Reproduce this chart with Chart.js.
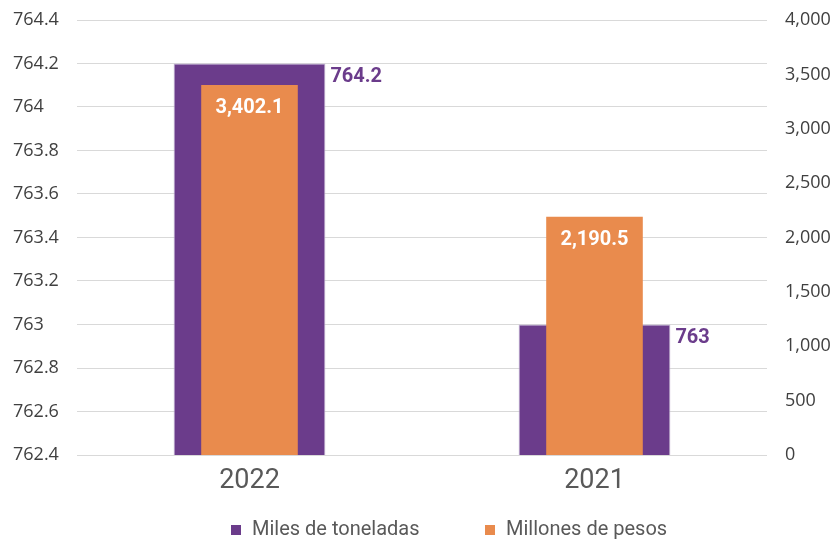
<!DOCTYPE html>
<html>
<head>
<meta charset="utf-8">
<script src="https://cdn.jsdelivr.net/npm/chart.js@4.4.1/dist/chart.umd.min.js"></script>
<style>
  html, body { margin: 0; padding: 0; background: #fff; }
  #wrap { width: 837px; height: 539px; }
</style>
</head>
<body>
<div id="wrap"><canvas id="chart"></canvas></div>
<script>
const years = ['2022', '2021'];
const tonnes = [764.2, 763];
const pesos = [3402.1, 2190.5];
const seriesNames = ['Miles de toneladas', 'Millones de pesos'];

const PURPLE = '#6B3C8B';
const ORANGE = '#E98B4D';
const TICK_FONT = { family: '"Open Sans", sans-serif', size: 18 };

function fmtTonnes(v) {
  return String(v);
}

function fmtPesos(v) {
  return v.toLocaleString('en-US', { minimumFractionDigits: 1, maximumFractionDigits: 1 });
}

// value labels: purple to the right of the bar top, orange inside the top in white
const valueLabels = {
  id: 'valueLabels',
  afterDatasetsDraw(chart) {
    const ctx = chart.ctx;
    ctx.save();
    ctx.font = 'bold 20px Roboto, sans-serif';
    ctx.textBaseline = 'middle';

    chart.getDatasetMeta(0).data.forEach((bar, i) => {
      ctx.fillStyle = PURPLE;
      ctx.textAlign = 'left';
      ctx.fillText(fmtTonnes(tonnes[i]), bar.x + bar.width / 2 + 5, bar.y + 13);
    });

    chart.getDatasetMeta(1).data.forEach((bar, i) => {
      ctx.fillStyle = '#ffffff';
      ctx.textAlign = 'center';
      ctx.fillText(fmtPesos(pesos[i]), bar.x, bar.y + 23);
    });
    ctx.restore();
  },
};

// legend drawn by hand so the spacing matches the original
const bottomLegend = {
  id: 'bottomLegend',
  afterDraw(chart) {
    const ctx = chart.ctx;
    const colors = [PURPLE, ORANGE];
    const startX = [231, 485];
    const y = chart.height - 9;
    ctx.save();
    ctx.font = '20px Roboto, sans-serif';
    ctx.textBaseline = 'middle';
    ctx.textAlign = 'left';
    seriesNames.forEach((name, i) => {
      ctx.fillStyle = colors[i];
      ctx.fillRect(startX[i], y - 5, 10, 10);
      ctx.fillStyle = '#595959';
      ctx.fillText(name, startX[i] + 21, y);
    });
    ctx.restore();
  },
};

function fitVertical(width) {
  return (scale) => {
    scale.width = width;
    scale.paddingTop = 0;
    scale.paddingBottom = 0;
  };
}

new Chart(document.getElementById('chart'), {
  type: 'bar',
  data: {
    labels: years,
    datasets: [
      {
        label: seriesNames[0],
        data: tonnes,
        yAxisID: 'y',
        backgroundColor: PURPLE,
        borderColor: '#c2b4d3',
        borderWidth: 1,
        grouped: false,
        order: 1,
        barPercentage: 0.44,
        categoryPercentage: 1,
      },
      {
        label: seriesNames[1],
        data: pesos,
        yAxisID: 'y1',
        backgroundColor: ORANGE,
        grouped: false,
        order: 0,
        barPercentage: 0.28,
        categoryPercentage: 1,
      },
    ],
  },
  options: {
    responsive: true,
    maintainAspectRatio: false,
    animation: false,
    layout: { padding: { left: 13, top: 20, right: 0, bottom: 40 } },
    plugins: {
      legend: { display: false },
      tooltip: { enabled: false },
    },
    scales: {
      x: {
        grid: { display: false },
        border: { display: false },
        ticks: {
          color: '#595959',
          font: { family: 'Roboto, sans-serif', size: 27 },
          padding: 2,
        },
        afterFit: (scale) => { scale.height = 44; },
      },
      y: {
        position: 'left',
        min: 762.4,
        max: 764.4,
        grid: { color: '#d9d9d9', lineWidth: 1, drawTicks: false },
        border: { display: false },
        ticks: {
          stepSize: 0.2,
          crossAlign: 'far',
          color: '#404040',
          font: TICK_FONT,
          callback: (v) => Number(v).toFixed(1).replace(/\.0$/, ''),
        },
        afterFit: fitVertical(64),
      },
      y1: {
        position: 'right',
        min: 0,
        max: 4000,
        grid: { display: false, drawTicks: false },
        border: { display: false },
        ticks: {
          stepSize: 500,
          padding: 18,
          color: '#404040',
          font: TICK_FONT,
        },
        afterFit: fitVertical(70),
      },
    },
  },
  plugins: [valueLabels, bottomLegend],
});
</script>
</body>
</html>
